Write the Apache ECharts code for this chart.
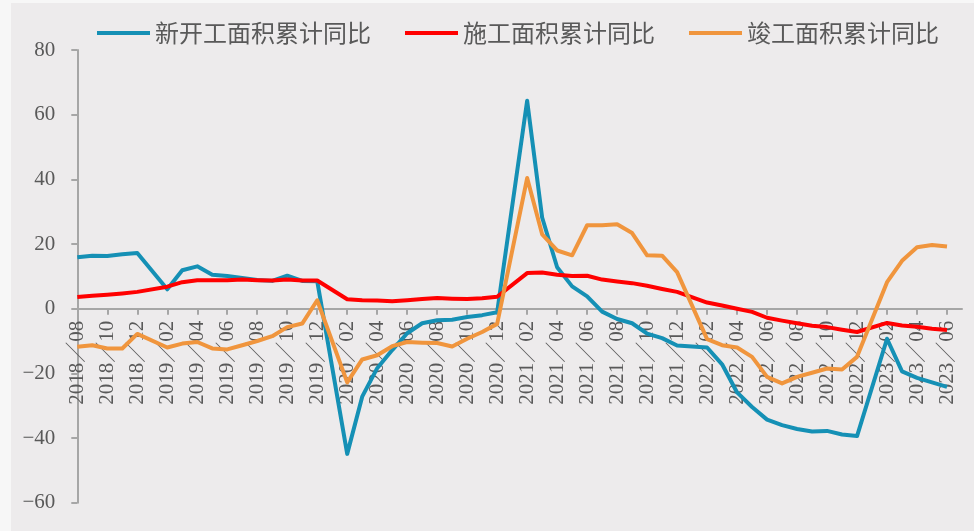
<!DOCTYPE html>
<html>
<head>
<meta charset="utf-8">
<script src="https://cdn.jsdelivr.net/npm/echarts@6/dist/echarts.min.js"></script>
<style>
  html, body { margin: 0; padding: 0; background: #f7f7f7; }
  #chart { position: absolute; left: 11px; top: 3px; width: 963px; height: 528px; background: #edebec; }
</style>
</head>
<body>
<div id="chart"></div>
<script>
// Monthly cumulative YoY (%), Aug 2018 – Jun 2023; January values are not published (null)
const months = [
  '2018/08','2018/09','2018/10','2018/11','2018/12',
  '2019/01','2019/02','2019/03','2019/04','2019/05','2019/06','2019/07','2019/08','2019/09','2019/10','2019/11','2019/12',
  '2020/01','2020/02','2020/03','2020/04','2020/05','2020/06','2020/07','2020/08','2020/09','2020/10','2020/11','2020/12',
  '2021/01','2021/02','2021/03','2021/04','2021/05','2021/06','2021/07','2021/08','2021/09','2021/10','2021/11','2021/12',
  '2022/01','2022/02','2022/03','2022/04','2022/05','2022/06','2022/07','2022/08','2022/09','2022/10','2022/11','2022/12',
  '2023/01','2023/02','2023/03','2023/04','2023/05','2023/06','2023/07'
];

const newStarts = [
  15.9, 16.4, 16.3, 16.8, 17.2,
  null, 6.0, 11.9, 13.1, 10.5, 10.1, 9.5, 8.9, 8.6, 10.2, 8.6, 8.5,
  null, -44.9, -27.2, -18.4, -12.8, -7.6, -4.5, -3.6, -3.4, -2.6, -2.0, -1.1,
  null, 64.3, 28.2, 12.8, 6.9, 3.8, -0.9, -3.2, -4.5, -7.7, -9.1, -11.4,
  null, -12.0, -17.2, -25.9, -30.4, -34.3, -36.0, -37.2, -38.0, -37.8, -38.9, -39.4,
  null, -9.3, -19.4, -21.4, -22.8, -24.2, null
];

const underConstruction = [
  3.6, 4.0, 4.3, 4.7, 5.2,
  null, 6.8, 8.2, 8.8, 8.8, 8.8, 9.0, 8.8, 8.7, 9.0, 8.7, 8.7,
  null, 2.9, 2.6, 2.5, 2.3, 2.6, 3.0, 3.3, 3.1, 3.0, 3.2, 3.7,
  null, 11.0, 11.2, 10.5, 10.1, 10.2, 9.0, 8.4, 7.9, 7.1, 6.1, 5.2,
  null, 1.9, 1.0, 0.0, -1.0, -2.8, -3.7, -4.5, -5.3, -5.7, -6.5, -7.2,
  null, -4.4, -5.2, -5.6, -6.2, -6.6, null
];

const completed = [
  -11.8, -11.3, -12.3, -12.3, -7.8,
  null, -12.0, -10.8, -10.3, -12.3, -12.6, -11.3, -10.0, -8.5, -5.7, -4.6, 2.6,
  null, -22.8, -15.7, -14.4, -11.6, -10.3, -10.5, -10.6, -11.7, -9.3, -7.2, -4.7,
  null, 40.4, 23.0, 18.0, 16.5, 25.8, 25.8, 26.1, 23.4, 16.5, 16.4, 11.3,
  null, -9.4, -11.3, -12.0, -14.9, -21.1, -23.1, -21.1, -19.8, -18.5, -18.8, -14.9,
  null, 8.2, 14.8, 19.0, 19.7, 19.2, null
];

const seriesNames = ['新开工面积累计同比', '施工面积累计同比', '竣工面积累计同比'];
const seriesColors = ['#1590b5', '#ff0000', '#f0953d'];

const chart = echarts.init(document.getElementById('chart'), null, { renderer: 'canvas' });

const axisGray = '#a6a6a6';
const textGray = '#595959';
const numFont = '"Liberation Serif", "Noto Sans CJK SC", serif';
const Y_MIN = -60, Y_MAX = 80;

chart.setOption({
  animation: false,
  color: seriesColors,
  legend: {
    left: 81,
    top: 13,
    padding: 5,
    icon: 'rect',
    itemWidth: 53,
    itemHeight: 4,
    itemGap: 34,
    textStyle: {
      fontFamily: '"Noto Sans CJK SC", sans-serif',
      fontSize: 24,
      lineHeight: 24,
      color: textGray
    },
    data: seriesNames
  },
  grid: {
    left: 66.3, right: 12, top: 47, bottom: 28.3,
    containLabel: false,
    outerBoundsMode: 'none'
  },
  xAxis: {
    type: 'category',
    data: months,
    boundaryGap: false,
    axisLine: { onZero: false, lineStyle: { color: axisGray, width: 2 } },
    axisTick: { show: true, interval: 1, length: 6, lineStyle: { color: axisGray, width: 2 } },
    axisLabel: {
      interval: 1,
      rotate: 90,
      margin: 12,
      color: textGray,
      fontFamily: numFont,
      fontSize: 21,
      hideOverlap: false,
      formatter: v => v.replace('/', '／')
    },
    splitLine: { show: false }
  },
  yAxis: {
    type: 'value',
    min: Y_MIN,
    max: Y_MAX,
    interval: 20,
    axisLine: { show: true, lineStyle: { color: axisGray, width: 2 } },
    axisTick: { show: true, length: 6, lineStyle: { color: axisGray, width: 2 } },
    axisLabel: {
      margin: 22,
      color: textGray,
      fontFamily: numFont,
      fontSize: 21,
      formatter: v => String(v).replace('-', '−')
    },
    splitLine: { show: false }
  },
  series: [
    { name: seriesNames[0], data: newStarts },
    { name: seriesNames[1], data: underConstruction },
    { name: seriesNames[2], data: completed }
  ].map((s, i) => ({
    type: 'line',
    name: s.name,
    data: s.data,
    symbol: 'none',
    connectNulls: true,
    lineStyle: { width: 4, color: seriesColors[i], join: 'round' },
    itemStyle: { color: seriesColors[i] }
  }))
});

// Lift the category axis onto the y = 0 line using the value axis' own scale
const zeroPx = chart.convertToPixel({ yAxisIndex: 0 }, 0);
const minPx = chart.convertToPixel({ yAxisIndex: 0 }, Y_MIN);
chart.setOption({ xAxis: { offset: zeroPx - minPx } });
</script>
</body>
</html>
